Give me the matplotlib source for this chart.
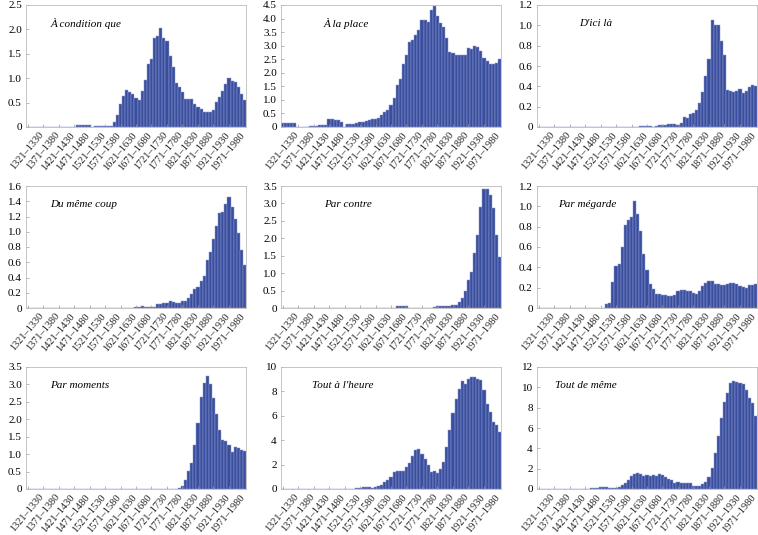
import matplotlib
matplotlib.use("Agg")
import matplotlib.pyplot as plt
from matplotlib.ticker import FuncFormatter
from matplotlib.transforms import ScaledTranslation

plt.rcParams['font.family'] = ['Liberation Serif', 'DejaVu Serif']

# decade bins 1321-1330 onwards (71 bins), labels every 50 years
n_bins = 71
tick_pos = [0, 5, 10, 15, 20, 25, 30, 35, 40, 45, 50, 55, 60, 65]
tick_labels = ["1321\u20131330", "1371\u20131380", "1421\u20131430", "1471\u20131480",
               "1521\u20131530", "1571\u20131580", "1621\u20131630", "1671\u20131680",
               "1721\u20131730", "1771\u20131780", "1821\u20131830", "1871\u20131880",
               "1921\u20131930", "1971\u20131980"]

titles = ["\u00c0 condition que", "\u00c0 la place", "D'ici l\u00e0",
          "Du m\u00eame coup", "Par contre", "Par m\u00e9garde",
          "Par moments", "Tout \u00e0 l'heure", "Tout de m\u00eame"]

a_condition_que = [0]*16 + [0.04, 0.04, 0.04, 0.04, 0.04, 0.0, 0.02, 0.02, 0.02, 0.03,
                           0.03, 0.02, 0.11, 0.24, 0.48, 0.63, 0.76, 0.72, 0.67, 0.60,
                           0.56, 0.74, 0.96, 1.30, 1.40, 1.83, 1.87, 2.02, 1.83, 1.77,
                           1.46, 1.22, 0.90, 0.82, 0.72, 0.58, 0.57, 0.57, 0.48, 0.41,
                           0.36, 0.30, 0.30, 0.30, 0.34, 0.51, 0.62, 0.73, 0.89, 1.00,
                           0.94, 0.92, 0.81, 0.67, 0.55]
a_la_place = [0.15, 0.15, 0.15, 0.15, 0.15, 0, 0, 0, 0, 0.05,
              0.05, 0.05, 0.08, 0.06, 0.08, 0.28, 0.28, 0.27, 0.24, 0.20,
              0.0, 0.10, 0.10, 0.12, 0.15, 0.20, 0.18, 0.22, 0.26, 0.28,
              0.30, 0.32, 0.45, 0.55, 0.62, 0.80, 1.07, 1.55, 1.77, 2.32,
              2.65, 3.15, 3.20, 3.40, 3.58, 3.93, 3.93, 3.88, 4.33, 4.47,
              4.10, 3.82, 3.70, 3.30, 2.75, 2.72, 2.65, 2.65, 2.65, 2.65,
              2.90, 2.88, 2.98, 2.95, 2.82, 2.55, 2.45, 2.33, 2.33, 2.35,
              2.52]
d_ici_la = [0]*33 + [0.01, 0.01, 0.01, 0.01, 0.0, 0.01, 0.015, 0.02, 0.02, 0.03,
                     0.03, 0.03, 0.02, 0.04, 0.10, 0.09, 0.13, 0.14, 0.17, 0.24,
                     0.34, 0.50, 0.67, 1.05, 1.00, 1.00, 0.85, 0.71, 0.36, 0.35,
                     0.34, 0.35, 0.37, 0.33, 0.35, 0.39, 0.41, 0.40]
du_meme_coup = [0]*35 + [0.01, 0.01, 0.02, 0.01, 0.01, 0.01, 0.01, 0.05, 0.05, 0.06,
                         0.07, 0.09, 0.08, 0.07, 0.07, 0.09, 0.09, 0.13, 0.18, 0.25,
                         0.28, 0.36, 0.42, 0.63, 0.74, 0.91, 1.08, 1.24, 1.26, 1.37,
                         1.46, 1.32, 1.17, 0.98, 0.76, 0.56]
par_contre = [0]*37 + [0.05, 0.05, 0.05, 0.05, 0, 0, 0, 0, 0.01, 0.01,
                       0.01, 0.01, 0.03, 0.05, 0.06, 0.06, 0.06, 0.06, 0.08, 0.10,
                       0.17, 0.30, 0.50, 0.80, 1.03, 1.58, 2.08, 2.90, 3.42, 3.40,
                       3.25, 2.88, 2.08, 1.45]
par_megarde = [0]*22 + [0.04, 0.05, 0.26, 0.41, 0.43, 0.60, 0.82, 0.87, 0.90, 1.05,
                        0.92, 0.76, 0.53, 0.37, 0.24, 0.19, 0.14, 0.14, 0.13, 0.13,
                        0.12, 0.12, 0.13, 0.17, 0.18, 0.18, 0.17, 0.17, 0.15, 0.14,
                        0.17, 0.22, 0.25, 0.27, 0.27, 0.24, 0.24, 0.23, 0.23, 0.24,
                        0.25, 0.25, 0.24, 0.22, 0.21, 0.20, 0.23, 0.23, 0.24]
par_moments = [0]*48 + [0.01, 0.02, 0.08, 0.25, 0.53, 0.75, 1.27, 1.90, 2.65, 3.05,
                        3.25, 3.02, 2.62, 2.15, 1.70, 1.41, 1.38, 1.27, 1.07, 1.20,
                        1.18, 1.12, 1.08]
tout_a_l_heure = [0]*22 + [0.02, 0.04, 0.07, 0.10, 0.15, 0.20, 0.15, 0.12, 0.20, 0.25,
                           0.35, 0.55, 0.75, 1.00, 1.40, 1.45, 1.50, 1.50, 1.80, 2.10,
                           2.70, 3.20, 3.25, 2.90, 2.45, 2.00, 1.40, 1.50, 1.30, 1.65,
                           2.20, 3.45, 4.85, 6.20, 7.35, 8.20, 8.85, 8.60, 9.00, 9.15,
                           9.20, 9.00, 8.90, 8.10, 7.00, 6.30, 5.50, 5.25, 4.70]
tout_de_meme = [0]*16 + [0.02, 0.05, 0.08, 0.10, 0.15, 0.20, 0.20, 0.10, 0.08, 0.10,
                         0.15, 0.35, 0.55, 0.90, 1.30, 1.50, 1.60, 1.50, 1.30, 1.40,
                         1.30, 1.35, 1.30, 1.50, 1.40, 1.15, 1.00, 0.85, 0.60, 0.70,
                         0.60, 0.55, 0.55, 0.55, 0.30, 0.25, 0.30, 0.50, 0.70, 1.20,
                         2.10, 3.50, 5.20, 7.00, 8.60, 9.40, 10.40, 10.65, 10.50, 10.40,
                         10.30, 9.70, 9.00, 8.50, 7.20]

series = [a_condition_que, a_la_place, d_ici_la, du_meme_coup, par_contre,
          par_megarde, par_moments, tout_a_l_heure, tout_de_meme]
ymax = [2.5, 4.5, 1.2, 1.6, 3.5, 1.2, 3.5, 10, 12]
ystep = [0.5, 0.5, 0.2, 0.2, 0.5, 0.2, 0.5, 2, 2]
title_x = [0.11, 0.195, 0.19, 0.11, 0.195, 0.095, 0.11, 0.14, 0.08]

lefts = [26, 281, 537]
tops = [5, 186, 367]
W, H = 758, 535


def make_fmt(step):
    def fmt(v, pos):
        if abs(v) < 1e-9:
            return "0"
        if step >= 1:
            return "%d" % round(v)
        return "%.1f" % v
    return fmt


fig = plt.figure(figsize=(W / 100, H / 100), dpi=100)
x = list(range(n_bins))
shift = ScaledTranslation(0.11, -0.035, fig.dpi_scale_trans)
for k in range(9):
    r, c = divmod(k, 3)
    ax = fig.add_axes([lefts[c] / W, 1 - (tops[r] + 122) / H, 220 / W, 122 / H])
    ax.bar(x, series[k], width=1.0, color='#3a4e9e', edgecolor='#8e9bd0', linewidth=0.35)
    ax.set_xlim(-0.5, n_bins - 0.5)
    ax.set_ylim(0, ymax[k])
    n = int(round(ymax[k] / ystep[k]))
    ax.set_yticks([i * ystep[k] for i in range(n + 1)])
    ax.yaxis.set_major_formatter(FuncFormatter(make_fmt(ystep[k])))
    ax.set_xticks(tick_pos)
    ax.set_xticklabels([])
    for p, lab in zip(tick_pos, tick_labels):
        ax.text(p, 0, lab, transform=ax.get_xaxis_transform() + shift,
                rotation=50, rotation_mode='anchor', ha='right', va='top',
                fontsize=7.5, color='#222222')
    ax.tick_params(axis='y', labelsize=8, direction='in', length=2.5, width=0.5,
                   color='#999999', pad=3)
    ax.tick_params(axis='x', direction='in', length=2, width=0.5, color='#999999')
    for s in ax.spines.values():
        s.set_color('#bbbbbb')
        s.set_linewidth(0.6)
    ax.text(title_x[k], 0.85, titles[k], transform=ax.transAxes, fontsize=8,
            style='italic', va='center', ha='left')

fig.savefig('out.png', dpi=100)
